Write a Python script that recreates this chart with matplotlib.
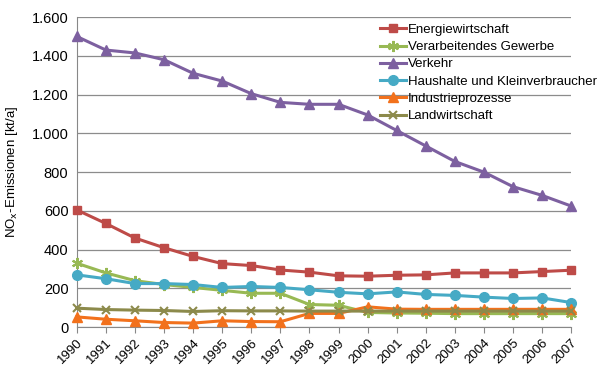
import numpy as np
import matplotlib.pyplot as plt
from matplotlib.ticker import FuncFormatter

plt.rcParams['font.family'] = ['Liberation Sans', 'DejaVu Sans']

years = list(range(1990, 2008))

energie = [605, 535, 460, 410, 365, 328, 318, 295, 284, 265, 263, 268, 270, 280, 280, 280, 287, 294]
verarbeitend = [330, 280, 240, 220, 205, 190, 175, 175, 117, 113, 76, 73, 72, 70, 70, 70, 70, 70]
verkehr = [1500, 1430, 1415, 1380, 1310, 1270, 1205, 1160, 1150, 1150, 1095, 1015, 935, 855, 800, 725, 680, 625]
haushalte = [270, 250, 225, 225, 220, 205, 210, 205, 193, 180, 172, 182, 169, 164, 155, 148, 151, 127]
industrie = [53, 41, 33, 24, 21, 33, 29, 28, 71, 71, 105, 93, 92, 92, 92, 92, 92, 92]
landwirtschaft = [98, 91, 88, 86, 81, 85, 84, 84, 83, 83, 83, 83, 83, 83, 83, 83, 83, 83]

series = [
    ("Energiewirtschaft", energie, "#BE4B48", "s", 6),
    ("Verarbeitendes Gewerbe", verarbeitend, "#98B954", (6, 2, 0), 8),
    ("Verkehr", verkehr, "#7D60A0", "^", 7),
    ("Haushalte und Kleinverbraucher", haushalte, "#46AAC5", "o", 7),
    ("Industrieprozesse", industrie, "#F2711C", "^", 7),
    ("Landwirtschaft", landwirtschaft, "#8C8A4B", "x", 6),
]

fig = plt.figure(figsize=(6, 3.8), dpi=100)
ax = fig.add_axes([0.128, 0.139, 0.824, 0.816])

for i, (name, vals, col, mk, ms) in enumerate(series):
    ax.plot(years, vals, color=col, marker=mk, markersize=ms, linewidth=2.2,
            markeredgewidth=1.5 if mk in ("x", (6, 2, 0)) else 1,
            markeredgecolor=col, label=name, zorder=3 + i, clip_on=False)

ax.set_xlim(1990, 2007)
ax.set_ylim(0, 1600)
ax.set_yticks(np.arange(0, 1601, 200))
ax.yaxis.set_major_formatter(FuncFormatter(lambda v, p: f"{int(v):,}".replace(",", ".")))
ax.set_xticks(years)
ax.set_xticklabels([str(y) for y in years], rotation=45, ha="right",
                   rotation_mode="anchor", fontsize=9.5)
ax.tick_params(axis="y", labelsize=10.5, length=0, pad=6)
ax.tick_params(axis="x", length=4, color="#888888", pad=3)
ax.grid(axis="y", color="#8C8C8C", linewidth=0.9)
ax.set_axisbelow(True)
for s in ["top", "right"]:
    ax.spines[s].set_visible(False)
ax.spines["left"].set_color("#888888")
ax.spines["bottom"].set_color("#888888")

ax.set_ylabel(r"NO$_\mathrm{x}$-Emissionen [kt/a]", fontsize=9.5, labelpad=8)

ax.legend(loc="upper left", bbox_to_anchor=(0.6, 1.0), frameon=False, fontsize=9.5,
          handlelength=2.0, handletextpad=0.1, labelspacing=0.38, borderaxespad=0.1)

fig.savefig("out.png", dpi=100)
